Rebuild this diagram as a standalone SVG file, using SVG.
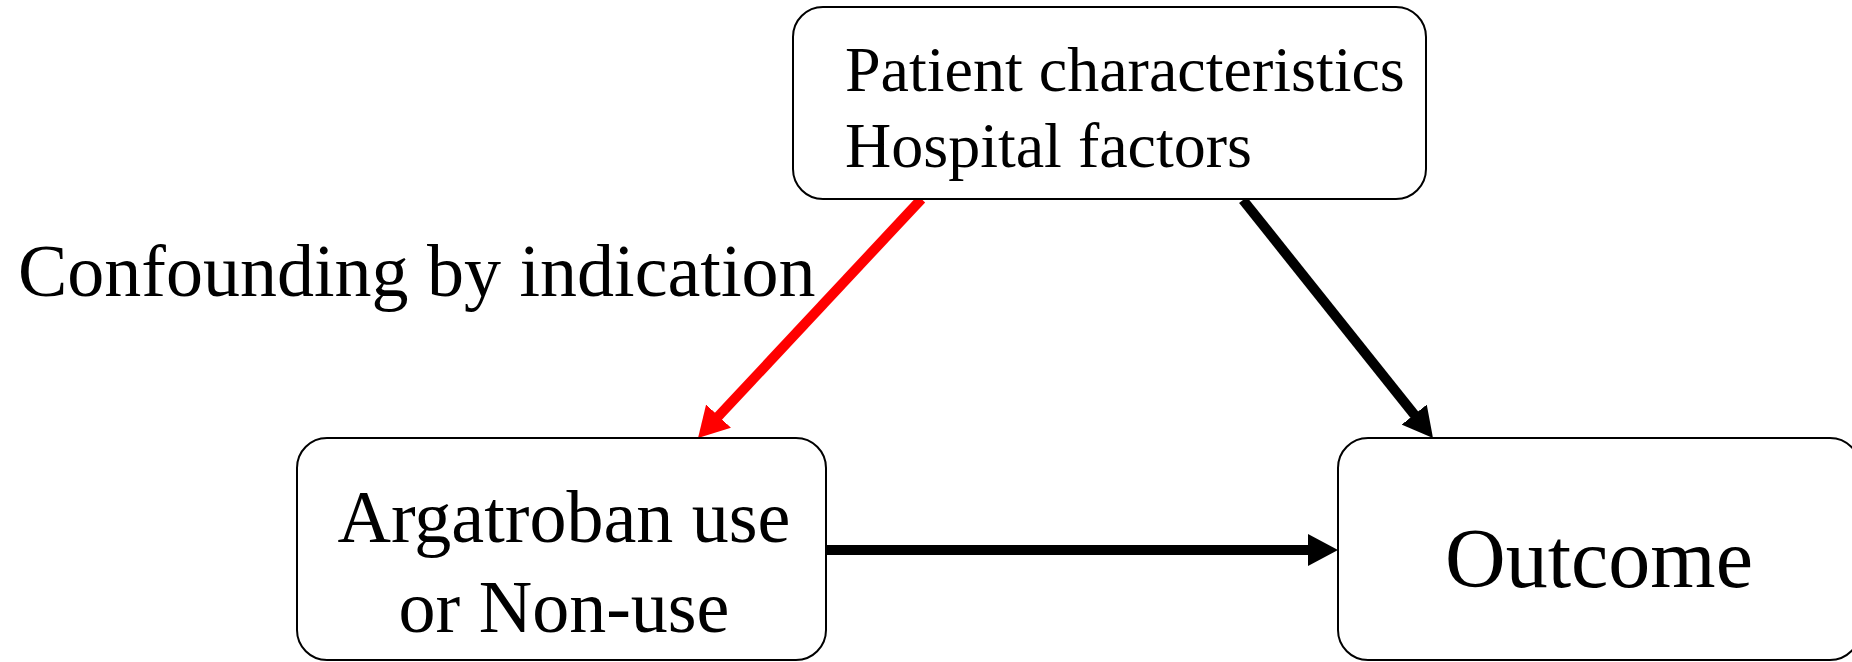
<svg xmlns="http://www.w3.org/2000/svg" width="1852" height="662" viewBox="0 0 1852 662">
<style>
.box{fill:#fff;stroke:#000;stroke-width:2}
.t{font-family:"Liberation Serif","Times New Roman",serif;fill:#000}
.c{stroke-width:10;fill:none;stroke-linecap:butt}
</style>
<defs>
<marker id="ah-black" markerUnits="userSpaceOnUse" viewBox="0 0 30 32" refX="10" refY="16" markerWidth="30" markerHeight="32" orient="auto">
<path d="M0,0 L30,16 L0,32 z" fill="#000"/>
</marker>
<marker id="ah-red" markerUnits="userSpaceOnUse" viewBox="0 0 30 34" refX="10" refY="17" markerWidth="30" markerHeight="34" orient="auto">
<path d="M0,0 L30,17 L0,34 z" fill="#f00"/>
</marker>
</defs>
<rect width="1852" height="662" fill="#fff"/>
<g id="connectors">
<line class="c" x1="921.5" y1="199" x2="711.7" y2="423.4" stroke="#f00" marker-end="url(#ah-red)"/>
<line class="c" x1="1243" y1="200" x2="1420.5" y2="422.4" stroke="#000" marker-end="url(#ah-black)"/>
<line class="c" x1="826" y1="550" x2="1318" y2="550" stroke="#000" marker-end="url(#ah-black)"/>
</g>
<g id="node-confounders">
<rect class="box" x="793" y="7" width="633" height="192" rx="30" ry="30"/>
<text class="t" x="845" y="91" font-size="64">Patient characteristics</text>
<text class="t" x="845" y="167" font-size="64">Hospital factors</text>
</g>
<g id="node-exposure">
<rect class="box" x="297" y="438" width="529" height="222" rx="30" ry="30"/>
<text class="t" x="564" y="542" font-size="74" text-anchor="middle">Argatroban use</text>
<text class="t" x="564" y="632" font-size="74" text-anchor="middle">or Non-use</text>
</g>
<g id="node-outcome">
<rect class="box" x="1338" y="438" width="522" height="222" rx="30" ry="30"/>
<text class="t" x="1599" y="587" font-size="84" text-anchor="middle">Outcome</text>
</g>
<g id="label-confounding">
<text class="t" x="18" y="296" font-size="74">Confounding by indication</text>
</g>
</svg>
